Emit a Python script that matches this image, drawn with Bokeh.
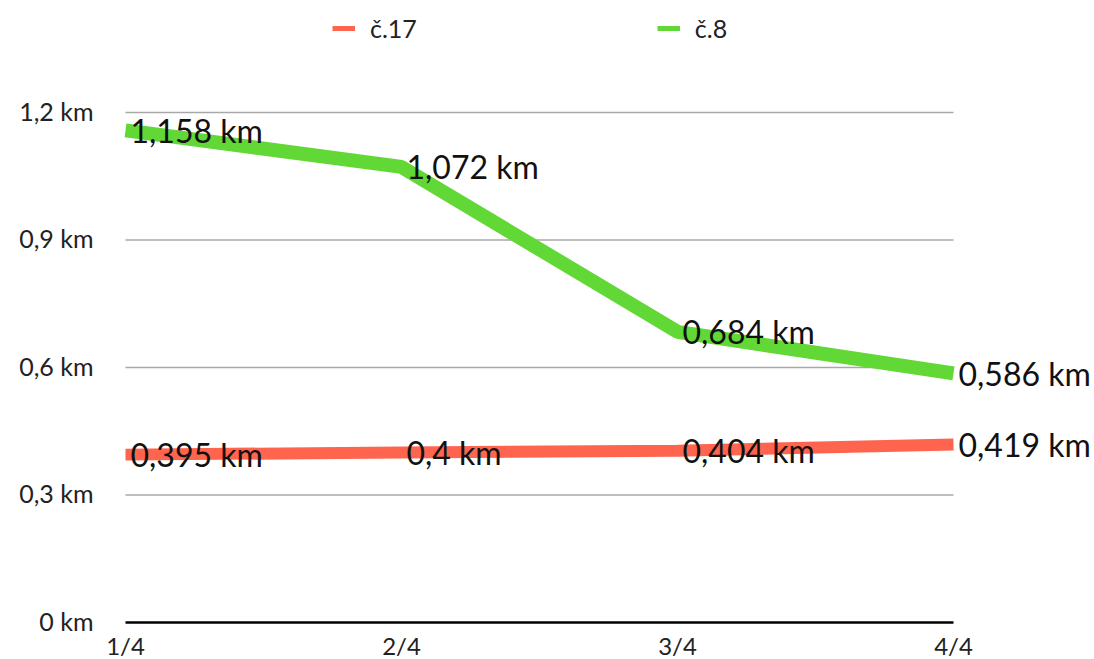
from bokeh.plotting import figure
from bokeh.models import ColumnDataSource, Legend, LegendItem
from bokeh.core.properties import value
from bokeh.embed import file_html
from bokeh.resources import INLINE

categories = ["1/4", "2/4", "3/4", "4/4"]
series_names = ["č.17", "č.8"]
c17 = [0.395, 0.4, 0.404, 0.419]
c8 = [1.158, 1.072, 0.684, 0.586]
y_ticks = [0, 0.3, 0.6, 0.9, 1.2]
y_tick_labels = ["0 km", "0,3 km", "0,6 km", "0,9 km", "1,2 km"]
colors = ["#FF644E", "#61D836"]

FONT = "Lato"
xs = list(range(len(categories)))
x_last = len(categories) - 1

W, H = 1094, 659
LEFT, RIGHT, TOP, BOTTOM = 125, 953, 112, 622
px_per_unit = (BOTTOM - TOP) / 1.2
y_end = 1.2 + TOP / px_per_unit
y_start = -(H - BOTTOM) / px_per_unit
px_per_cat = (RIGHT - LEFT) / x_last
x_end = x_last + (W - RIGHT) / px_per_cat
x_start = -LEFT / px_per_cat

def fmt(v):
    s = ("%.3f" % v).rstrip("0").rstrip(".")
    return s.replace(".", ",") + " km"

p = figure(width=W, height=H, output_backend="svg", toolbar_location=None,
           x_range=(x_start, x_end), y_range=(y_start, y_end),
           min_border=0)
p.outline_line_color = None
p.background_fill_color = "white"
p.axis.visible = False
p.xgrid.grid_line_color = None
p.ygrid.grid_line_color = None

# gridlines limited to the category span
grid_y = y_ticks[1:]
p.segment(x0=[0] * len(grid_y), x1=[x_last] * len(grid_y), y0=grid_y, y1=grid_y,
          line_color="#A8A8A8", line_width=1.5)
# baseline
p.segment(x0=[0], x1=[x_last], y0=[y_ticks[0]], y1=[y_ticks[0]],
          line_color="black", line_width=2.5)

# value-axis labels
p.text(x=[0] * len(y_ticks), y=y_ticks, text=y_tick_labels, x_offset=-32, y_offset=-2,
       text_align="right", text_baseline="middle",
       text_font=value(FONT), text_font_size="25px", text_color="#222222")

# category labels under the baseline
p.text(x=xs, y=[y_ticks[0]] * len(xs), text=categories, y_offset=8,
       text_align="center", text_baseline="top",
       text_font=value(FONT), text_font_size="24px", text_color="#222222")

src17 = ColumnDataSource(dict(x=xs, y=c17, lab=[fmt(v) for v in c17]))
src8 = ColumnDataSource(dict(x=xs, y=c8, lab=[fmt(v) for v in c8]))

p.line("x", "y", source=src17, line_color=colors[0], line_width=12)
p.line("x", "y", source=src8, line_color=colors[1], line_width=14)

for src in (src17, src8):
    p.text("x", "y", text="lab", source=src, x_offset=5,
           text_align="left", text_baseline="middle",
           text_font=value(FONT), text_font_size="32px", text_color="#111111")

# legend proxies (thin lines, off-screen)
l17 = p.line([-10, -9], [-5, -5], line_color=colors[0], line_width=5)
l8 = p.line([-10, -9], [-5, -5], line_color=colors[1], line_width=5)

legend = Legend(items=[LegendItem(label=series_names[0], renderers=[l17]),
                       LegendItem(label=series_names[1], renderers=[l8])],
                orientation="horizontal", location=(LEFT + 207, 616),
                label_text_font=FONT, label_text_font_size="25px", label_text_color="#222222",
                glyph_width=23, glyph_height=20, label_standoff=15, spacing=240,
                padding=0, margin=0, border_line_color=None, background_fill_alpha=0)
p.add_layout(legend, "center")

open("out.html", "w").write(file_html(p, INLINE))
